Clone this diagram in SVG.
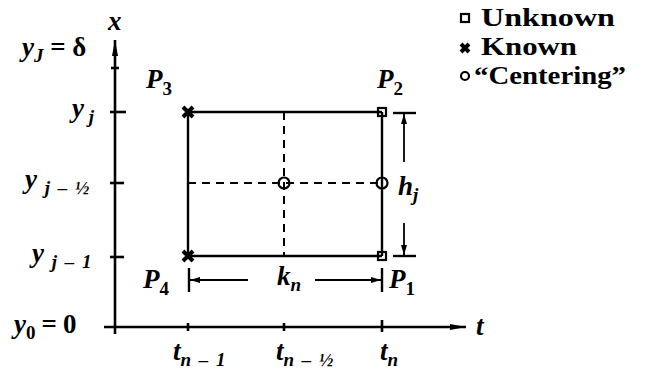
<svg xmlns="http://www.w3.org/2000/svg" width="646" height="379" viewBox="0 0 646 379">
<defs>
<style>
.ax{stroke:#000;stroke-width:2.6;fill:none}
.ln{stroke:#000;stroke-width:2.4;fill:none}
.ds{stroke:#000;stroke-width:2;fill:none;stroke-dasharray:8 6}
.dm{stroke:#000;stroke-width:1.8;fill:none}
.m{font-family:"Liberation Serif",serif;font-style:italic;font-weight:bold;font-size:27px;fill:#000}
.s{font-size:19px;font-style:italic}
.r{font-style:normal}
.w{word-spacing:3px}
.lg{font-family:"Liberation Serif",serif;font-weight:bold;font-size:25px;fill:#000}
.sym{stroke:#000;stroke-width:2.2;fill:none}
.xm{stroke:#000;stroke-width:4;fill:none}
</style>
<marker id="ah" viewBox="0 0 10 6" refX="10" refY="3" markerWidth="11" markerHeight="6" markerUnits="userSpaceOnUse" orient="auto">
<path d="M0,0 L10,3 L0,6 z" fill="#000"/>
</marker>
<marker id="axh" viewBox="0 0 16 8" refX="16" refY="4" markerWidth="18" markerHeight="8" markerUnits="userSpaceOnUse" orient="auto">
<path d="M0,1 L16,4 L0,7 z" fill="#000"/>
</marker>
</defs>
<rect width="646" height="379" fill="#fff"/>

<g id="connectors">
<line id="x-axis" class="ax" x1="115" y1="334" x2="115" y2="40" marker-end="url(#axh)"/>
<line id="t-axis" class="ax" x1="104" y1="327" x2="466" y2="327" marker-end="url(#axh)"/>
<line class="ax" x1="110" y1="112" x2="126" y2="112"/>
<line class="ax" x1="110" y1="183" x2="124" y2="183"/>
<line class="ax" x1="110" y1="257" x2="124" y2="257"/>
<line class="ax" x1="111" y1="68" x2="119" y2="68"/>
<line class="ax" x1="188" y1="323" x2="188" y2="331"/>
<line class="ax" x1="284" y1="323" x2="284" y2="331"/>
<line class="ax" x1="382" y1="320" x2="382" y2="332"/>
<line class="ln" x1="188" y1="112" x2="382" y2="112"/>
<line class="ln" x1="188" y1="256" x2="382" y2="256"/>
<line class="ln" x1="188" y1="112" x2="188" y2="256"/>
<line class="ln" x1="382" y1="112" x2="382" y2="256"/>
<line class="ds" x1="284" y1="112" x2="284" y2="256"/>
<line class="ds" x1="188" y1="183" x2="382" y2="183"/>
<line class="ln" x1="393" y1="113" x2="416" y2="113"/>
<line class="ln" x1="393" y1="256" x2="416" y2="256"/>
<line class="dm" x1="404" y1="162" x2="404" y2="114" marker-end="url(#ah)"/>
<line class="dm" x1="404" y1="223" x2="404" y2="255" marker-end="url(#ah)"/>
<line class="ln" x1="189" y1="268" x2="189" y2="292"/>
<line class="ln" x1="382" y1="268" x2="382" y2="292"/>
<line class="dm" x1="248" y1="280" x2="190" y2="280" marker-end="url(#ah)"/>
<line class="dm" x1="315" y1="280" x2="381" y2="280" marker-end="url(#ah)"/>
</g>

<g id="P3">
<path class="xm" d="M183,107 L193,117 M193,107 L183,117"/>
<text class="m" x="146" y="88">P<tspan class="s r" dy="7">3</tspan></text>
</g>
<g id="P2">
<rect class="sym" x="378" y="108" width="8" height="8"/>
<text class="m" x="377" y="88">P<tspan class="s r" dy="7">2</tspan></text>
</g>
<g id="P4">
<path class="xm" d="M183,251 L193,261 M193,251 L183,261"/>
<text class="m" x="143" y="288">P<tspan class="s r" dy="7">4</tspan></text>
</g>
<g id="P1">
<rect class="sym" x="378" y="252" width="8" height="8"/>
<text class="m" x="389" y="288">P<tspan class="s r" dy="7">1</tspan></text>
</g>
<g id="C1">
<circle class="sym" cx="284" cy="183" r="5.5"/>
</g>
<g id="C2">
<circle class="sym" cx="382" cy="183" r="5.5"/>
</g>

<g id="labels">
<text class="m" x="108" y="30">x</text>
<text class="m" x="476" y="335">t</text>
<text class="m" x="22" y="56">y<tspan class="s" dy="6">J</tspan><tspan class="r" dy="-6"> = δ</tspan></text>
<text class="m" x="72" y="117">y<tspan class="s" dy="6"> j</tspan></text>
<text class="m" x="25" y="188">y<tspan class="s w" dy="6"> j – ½</tspan></text>
<text class="m" x="32" y="262">y<tspan class="s w" dy="6"> j – 1</tspan></text>
<text class="m" x="14" y="333">y<tspan class="s r" dy="6">0</tspan><tspan class="r" dy="-6" dx="6">=</tspan><tspan class="r" dx="6">0</tspan></text>
<text class="m" x="173" y="360">t<tspan class="s w" dy="6">n – 1</tspan></text>
<text class="m" x="276" y="360">t<tspan class="s w" dy="6">n – ½</tspan></text>
<text class="m" x="380" y="360">t<tspan class="s" dy="6">n</tspan></text>
<text class="m" x="398" y="195">h<tspan class="s" dy="6">j</tspan></text>
<text class="m" x="277" y="285">k<tspan class="s" dy="6">n</tspan></text>
</g>

<g id="legend">
<rect class="sym" x="461" y="14" width="8" height="8"/>
<text class="lg" x="481" y="26" textLength="134" lengthAdjust="spacingAndGlyphs">Unknown</text>
<path class="xm" d="M461,44 L469,52 M469,44 L461,52" stroke-width="3"/>
<text class="lg" x="481" y="55" textLength="96" lengthAdjust="spacingAndGlyphs">Known</text>
<circle class="sym" cx="465" cy="76" r="4"/>
<text class="lg" x="474" y="84" textLength="152" lengthAdjust="spacingAndGlyphs">“Centering”</text>
</g>
</svg>
